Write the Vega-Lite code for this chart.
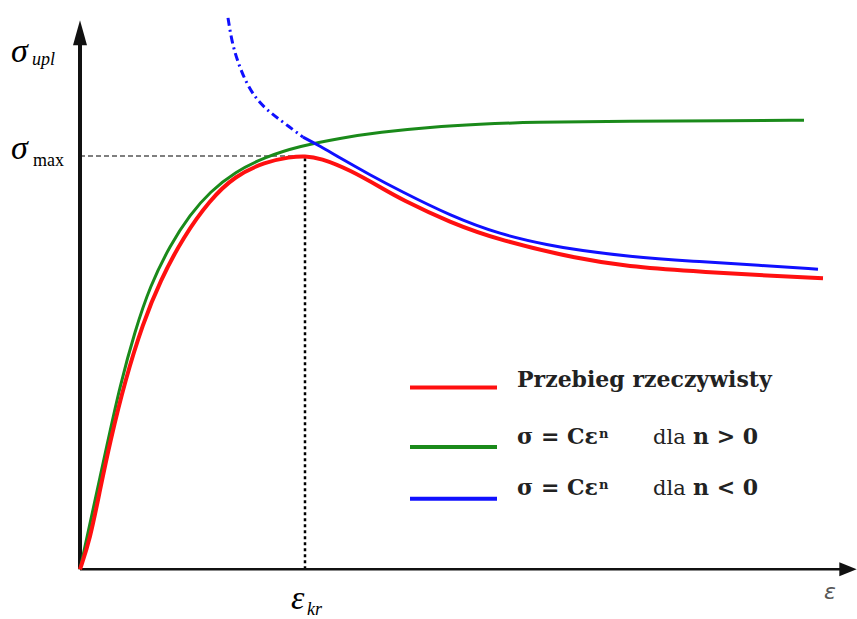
{
  "$schema": "https://vega.github.io/schema/vega-lite/v6.json",
  "width": 857,
  "height": 619,
  "padding": 0,
  "autosize": {"type": "fit", "contains": "padding"},
  "background": "white",
  "config": {"view": {"stroke": null}},
  "datasets": {
    "green": [
      {"x": 0, "y": 0}, {"x": 13, "y": 60}, {"x": 27, "y": 125}, {"x": 40, "y": 185}, {"x": 55, "y": 240},
      {"x": 70, "y": 285}, {"x": 90, "y": 326}, {"x": 110, "y": 357}, {"x": 130, "y": 380}, {"x": 155, "y": 400},
      {"x": 185, "y": 415}, {"x": 220, "y": 426}, {"x": 260, "y": 434}, {"x": 300, "y": 440}, {"x": 350, "y": 445},
      {"x": 400, "y": 448}, {"x": 450, "y": 450}, {"x": 550, "y": 451}, {"x": 650, "y": 451.5}, {"x": 724, "y": 452}
    ],
    "red": [
      {"x": 0, "y": 0}, {"x": 10, "y": 30}, {"x": 20, "y": 80}, {"x": 30, "y": 128}, {"x": 45, "y": 190},
      {"x": 63, "y": 248}, {"x": 80, "y": 290}, {"x": 103, "y": 334}, {"x": 130, "y": 372}, {"x": 155, "y": 396},
      {"x": 185, "y": 410}, {"x": 210, "y": 415}, {"x": 225, "y": 416}, {"x": 240, "y": 414}, {"x": 270, "y": 402},
      {"x": 303, "y": 383}, {"x": 320, "y": 373}, {"x": 370, "y": 349}, {"x": 420, "y": 331}, {"x": 500, "y": 312},
      {"x": 547, "y": 305}, {"x": 613, "y": 300}, {"x": 680, "y": 296}, {"x": 743, "y": 293}
    ],
    "blueSolid": [
      {"x": 223, "y": 435}, {"x": 240, "y": 426}, {"x": 260, "y": 414}, {"x": 290, "y": 397}, {"x": 320, "y": 381},
      {"x": 370, "y": 356}, {"x": 420, "y": 337}, {"x": 470, "y": 326}, {"x": 500, "y": 321}, {"x": 547, "y": 315},
      {"x": 613, "y": 310}, {"x": 680, "y": 306}, {"x": 738, "y": 302}
    ],
    "blueDash": [
      {"x": 148, "y": 555}, {"x": 152, "y": 530}, {"x": 158, "y": 510}, {"x": 166, "y": 490}, {"x": 177, "y": 472},
      {"x": 190, "y": 460}, {"x": 203, "y": 450}, {"x": 223, "y": 435}
    ]
  },
  "encoding": {
    "x": {"field": "x", "type": "quantitative", "scale": {"domain": [-80, 777], "nice": false, "zero": false}, "axis": null},
    "y": {"field": "y", "type": "quantitative", "scale": {"domain": [-46, 573], "nice": false, "zero": false}, "axis": null}
  },
  "layer": [
    {
      "data": {"values": [{"x": 0, "y": 416, "x2": 225}]},
      "mark": {"type": "rule", "color": "black", "strokeWidth": 1.2, "strokeDash": [5, 3]},
      "encoding": {"x2": {"field": "x2"}}
    },
    {
      "data": {"values": [{"x": 225, "y": 0, "y2": 416}]},
      "mark": {"type": "rule", "color": "black", "strokeWidth": 2.5, "strokeDash": [3, 3]},
      "encoding": {"y2": {"field": "y2"}}
    },
    {
      "data": {"values": [{"x": 0, "y": 0, "y2": 530}]},
      "mark": {"type": "rule", "color": "#111111", "strokeWidth": 4},
      "encoding": {"y2": {"field": "y2"}}
    },
    {
      "data": {"values": [{"x": 0, "y": 0, "x2": 762}]},
      "mark": {"type": "rule", "color": "#111111", "strokeWidth": 2.5},
      "encoding": {"x2": {"field": "x2"}}
    },
    {
      "data": {"values": [{"x": 0, "y": 540}]},
      "mark": {"type": "point", "shape": "M0,-1L0.56,1L-0.56,1Z", "filled": true, "color": "#111111", "opacity": 1, "size": 625}
    },
    {
      "data": {"values": [{"x": 768, "y": 0}]},
      "mark": {"type": "point", "shape": "M1,0L-1,-0.8L-1,0.8Z", "filled": true, "color": "#111111", "opacity": 1, "size": 300}
    },
    {
      "data": {"name": "green"},
      "mark": {"type": "line", "color": "#1a8a1a", "strokeWidth": 3, "interpolate": "basis"}
    },
    {
      "data": {"name": "blueDash"},
      "mark": {"type": "line", "color": "#1010ff", "strokeWidth": 3, "strokeDash": [8, 4, 2, 4], "interpolate": "basis"}
    },
    {
      "data": {"name": "blueSolid"},
      "mark": {"type": "line", "color": "#1010ff", "strokeWidth": 3, "interpolate": "basis"}
    },
    {
      "data": {"name": "red"},
      "mark": {"type": "line", "color": "#ff1010", "strokeWidth": 4, "interpolate": "basis"}
    },
    {
      "data": {"values": [{"x": 330, "y": 183, "x2": 417}]},
      "mark": {"type": "rule", "color": "#ff1010", "strokeWidth": 4},
      "encoding": {"x2": {"field": "x2"}}
    },
    {
      "data": {"values": [{"x": 330, "y": 123, "x2": 417}]},
      "mark": {"type": "rule", "color": "#1a8a1a", "strokeWidth": 4},
      "encoding": {"x2": {"field": "x2"}}
    },
    {
      "data": {"values": [{"x": 330, "y": 71, "x2": 417}]},
      "mark": {"type": "rule", "color": "#1010ff", "strokeWidth": 4},
      "encoding": {"x2": {"field": "x2"}}
    },
    {
      "data": {"values": [{"x": 437, "y": 183, "t": "Przebieg rzeczywisty"}, {"x": 437, "y": 126, "t": "σ = Cε"}, {"x": 437, "y": 75, "t": "σ = Cε"}, {"x": 613, "y": 126, "t": "n > 0"}, {"x": 613, "y": 75, "t": "n < 0"}]},
      "mark": {"type": "text", "align": "left", "baseline": "alphabetic", "font": "DejaVu Serif", "fontWeight": "bold", "fontSize": 22, "color": "#222222"},
      "encoding": {"text": {"field": "t"}}
    },
    {
      "data": {"values": [{"x": 519, "y": 132, "t": "n"}, {"x": 519, "y": 81, "t": "n"}]},
      "mark": {"type": "text", "align": "left", "baseline": "alphabetic", "font": "DejaVu Serif", "fontWeight": "bold", "fontSize": 13, "color": "#222222"},
      "encoding": {"text": {"field": "t"}}
    },
    {
      "data": {"values": [{"x": 573, "y": 126, "t": "dla"}, {"x": 573, "y": 75, "t": "dla"}]},
      "mark": {"type": "text", "align": "left", "baseline": "alphabetic", "font": "DejaVu Serif", "fontSize": 21, "color": "#222222"},
      "encoding": {"text": {"field": "t"}}
    },
    {
      "data": {"values": [{"x": -69, "y": 511, "t": "σ"}, {"x": -69, "y": 413, "t": "σ"}, {"x": 211, "y": -40, "t": "ε"}]},
      "mark": {"type": "text", "align": "left", "baseline": "alphabetic", "font": "Liberation Serif", "fontStyle": "italic", "fontSize": 34, "color": "black"},
      "encoding": {"text": {"field": "t"}}
    },
    {
      "data": {"values": [{"x": -48, "y": 508, "t": "upl"}, {"x": 227, "y": -46, "t": "kr"}]},
      "mark": {"type": "text", "align": "left", "baseline": "alphabetic", "font": "Liberation Serif", "fontStyle": "italic", "fontSize": 18, "color": "black"},
      "encoding": {"text": {"field": "t"}}
    },
    {
      "data": {"values": [{"x": -47, "y": 406, "t": "max"}]},
      "mark": {"type": "text", "align": "left", "baseline": "alphabetic", "font": "Liberation Serif", "fontSize": 18, "color": "black"},
      "encoding": {"text": {"field": "t"}}
    },
    {
      "data": {"values": [{"x": 744, "y": -30, "t": "ε"}]},
      "mark": {"type": "text", "align": "left", "baseline": "alphabetic", "font": "DejaVu Sans", "fontStyle": "italic", "fontSize": 22, "color": "#555555"},
      "encoding": {"text": {"field": "t"}}
    }
  ]
}
